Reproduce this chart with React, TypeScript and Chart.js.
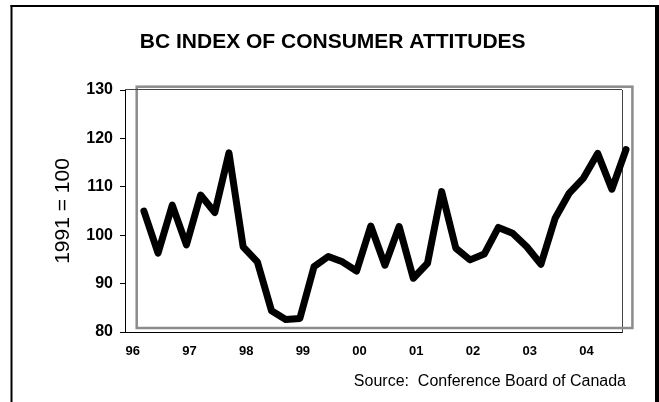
import React, { useEffect, useRef } from 'react';
import { Chart, registerables } from 'chart.js';

Chart.register(...registerables);

const chartTitle = 'BC INDEX OF CONSUMER ATTITUDES';
const yAxisTitle = '1991 = 100';
const sourceNote = 'Source:  Conference Board of Canada';

const yearTicks = [1996, 1997, 1998, 1999, 2000, 2001, 2002, 2003, 2004];
const yearLabels = ['96', '97', '98', '99', '00', '01', '02', '03', '04'];

const quarters = [
  '1996Q2', '1996Q3', '1996Q4',
  '1997Q1', '1997Q2', '1997Q3', '1997Q4',
  '1998Q1', '1998Q2', '1998Q3', '1998Q4',
  '1999Q1', '1999Q2', '1999Q3', '1999Q4',
  '2000Q1', '2000Q2', '2000Q3', '2000Q4',
  '2001Q1', '2001Q2', '2001Q3', '2001Q4',
  '2002Q1', '2002Q2', '2002Q3', '2002Q4',
  '2003Q1', '2003Q2', '2003Q3', '2003Q4',
  '2004Q1', '2004Q2', '2004Q3', '2004Q4',
];

const indexValues = [
  105.0, 96.3, 106.2,
  98.0, 108.3, 104.7, 117.0,
  97.6, 94.5, 84.4, 82.6,
  82.8, 93.5, 95.6, 94.5,
  92.6, 101.9, 93.8, 101.8,
  91.1, 94.2, 109.0, 97.3,
  94.9, 96.1, 101.6, 100.4,
  97.6, 94.0, 103.5, 108.7,
  111.8, 116.9, 109.5, 117.7,
];

const yMin = 80;
const yMax = 130;
const yStep = 10;

const FONT = '"Liberation Sans", Arial, Helvetica, sans-serif';

const quarterToYear = (q: string) =>
  parseInt(q.slice(0, 4), 10) + (parseInt(q.slice(5), 10) - 1) / 4;

const decorPlugin = {
  id: 'decor',
  beforeDatasetsDraw(chart: any) {
    const { ctx, chartArea } = chart;
    const { left, top, right, bottom } = chartArea;
    ctx.save();
    // offset gray box
    ctx.strokeStyle = '#8c8c8c';
    ctx.lineWidth = 2.5;
    ctx.strokeRect(left + 11.7, top - 3.3, right - left - 1.3, bottom - top - 0.7);
    // inner top border of plot area
    ctx.strokeStyle = '#444';
    ctx.lineWidth = 1;
    ctx.beginPath();
    ctx.moveTo(left, top - 0.5);
    ctx.lineTo(right, top - 0.5);
    ctx.stroke();
    ctx.restore();
  },
  afterDraw(chart: any) {
    const { ctx, width, height } = chart;
    ctx.save();
    ctx.fillStyle = '#000';
    ctx.fillRect(10.5, 5, 2, height - 5);
    ctx.fillRect(10.5, 5, width - 10.5, 2);
    ctx.fillRect(width - 4, 5, 4, height - 5);
    ctx.font = `16px ${FONT}`;
    ctx.textAlign = 'right';
    ctx.textBaseline = 'middle';
    ctx.fillText(sourceNote, 626, 381.7);
    ctx.restore();
  },
};

export default function App() {
  const ref = useRef<HTMLCanvasElement>(null);

  useEffect(() => {
    const canvas = ref.current;
    if (!canvas) return;
    const points = quarters.map((q, i) => ({ x: quarterToYear(q), y: indexValues[i] }));
    const chart = new Chart(canvas, {
      type: 'line',
      data: {
        datasets: [
          {
            label: 'BC Index of Consumer Attitudes',
            data: points,
            borderColor: '#000',
            borderWidth: 7,
            borderJoinStyle: 'round',
            borderCapStyle: 'round',
            pointRadius: 0,
            tension: 0,
            clip: false as any,
            fill: false,
          },
        ],
      },
      options: {
        responsive: false,
        devicePixelRatio: 1,
        animation: false,
        layout: { padding: { left: 6.4, right: 0, top: 0, bottom: 0 } },
        plugins: {
          legend: { display: false },
          tooltip: { enabled: false },
          title: {
            display: true,
            text: chartTitle,
            color: '#000',
            font: { family: FONT, size: 21, weight: 'bold' },
            padding: { top: 29.4, bottom: 35.4 },
          },
        },
        scales: {
          x: {
            type: 'linear',
            min: 1995.917,
            max: 2004.679,
            afterBuildTicks: (scale: any) => {
              scale.ticks = yearTicks.map((v) => ({ value: v }));
            },
            afterFit: (scale: any) => {
              scale.height = 70;
            },
            grid: { display: false, drawTicks: false },
            border: { display: true, color: '#000', width: 1 },
            ticks: {
              color: '#000',
              font: { family: FONT, size: 13, weight: 'bold' },
              padding: 12,
              labelOffset: 3,
              maxRotation: 0,
              autoSkip: false,
              callback: (v: any) => {
                const idx = yearTicks.indexOf(Number(v));
                return idx >= 0 ? yearLabels[idx] : '';
              },
            },
          },
          y: {
            type: 'linear',
            position: 'left',
            min: yMin,
            max: yMax,
            afterFit: (scale: any) => {
              scale.width = 118.6;
            },
            grid: {
              display: true,
              drawOnChartArea: false,
              drawTicks: true,
              tickLength: 5,
              color: '#000',
              lineWidth: 1,
            },
            border: { display: true, color: '#000', width: 1 },
            ticks: {
              stepSize: yStep,
              color: '#000',
              padding: 7,
              font: { family: FONT, size: 16, weight: 'bold' },
            },
            title: {
              display: true,
              text: yAxisTitle,
              color: '#000',
              font: { family: FONT, size: 21, weight: 'normal' },
              padding: { top: 44, bottom: 0 },
            },
          },
          yR: {
            type: 'linear',
            position: 'right',
            display: true,
            afterFit: (scale: any) => {
              scale.width = 37;
            },
            grid: { display: false, drawTicks: false },
            ticks: { display: false },
            border: { display: true, color: '#444', width: 1 },
          },
        },
      } as any,
      plugins: [decorPlugin],
    });
    return () => chart.destroy();
  }, []);

  return (
    <div style={{ position: 'absolute', left: 0, top: 0, width: 659, height: 402, background: '#fff' }}>
      <canvas ref={ref} width={659} height={402} style={{ display: 'block' }} />
    </div>
  );
}
